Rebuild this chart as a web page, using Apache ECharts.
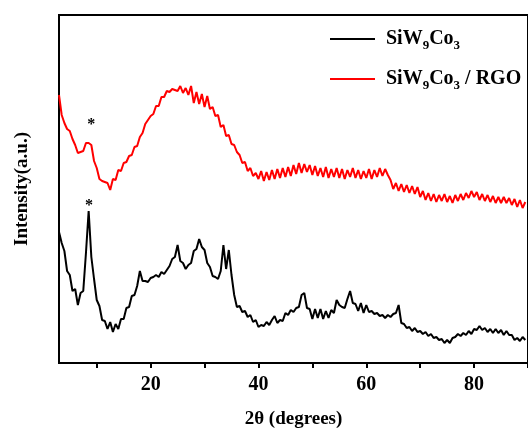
<!DOCTYPE html>
<html>
<head>
<meta charset="utf-8">
<script src="https://cdn.jsdelivr.net/npm/echarts@6/dist/echarts.min.js"></script>
<style>html,body{margin:0;padding:0;background:#fff;}#c{width:528px;height:434px;}</style>
</head>
<body>
<div id="c"></div>
<script>
// 2θ positions (degrees)
var twoTheta = [
3,3.5,4,4.5,5,5.5,6,6.5,7,7.5,
8,8.5,9,9.5,10,10.5,11,11.5,12,12.5,
13,13.5,14,14.5,15,15.5,16,16.5,17,17.5,
18,18.5,19,19.5,20,20.5,21,21.5,22,22.5,
23,23.5,24,24.5,25,25.5,26,26.5,27,27.5,
28,28.5,29,29.5,30,30.5,31,31.5,32,32.5,
33,33.5,34,34.5,35,35.5,36,36.5,37,37.5,
38,38.5,39,39.5,40,40.5,41,41.5,42,42.5,
43,43.5,44,44.5,45,45.5,46,46.5,47,47.5,
48,48.5,49,49.5,50,50.5,51,51.5,52,52.5,
53,53.5,54,54.5,55,55.5,56,56.5,57,57.5,
58,58.5,59,59.5,60,60.5,61,61.5,62,62.5,
63,63.5,64,64.5,65,65.5,66,66.5,67,67.5,
68,68.5,69,69.5,70,70.5,71,71.5,72,72.5,
73,73.5,74,74.5,75,75.5,76,76.5,77,77.5,
78,78.5,79,79.5,80,80.5,81,81.5,82,82.5,
83,83.5,84,84.5,85,85.5,86,86.5,87,87.5,
88,88.5,89,89.5
];
// SiW9Co3 / RGO intensity (a.u.)
var rgoIntensity = [
268,248,240,234,232,224,218,210,211,212,
220,220,218,202,195,184,182,181,180,173,
184,183,193,192,200,201,207,208,216,217,
226,230,239,243,247,249,257,257,266,266,
272,271,274,273,272,277,270,275,268,277,
260,271,259,269,256,267,254,256,247,248,
236,238,227,228,219,218,211,208,200,201,
192,195,187,190,184,192,182,191,183,193,
184,194,185,195,186,196,187,198,189,200,
190,199,191,198,188,197,187,195,186,196,
185,194,186,195,185,194,184,193,186,195,
185,193,184,192,185,194,184,193,186,195,
187,194,188,183,174,180,172,179,171,178,
170,177,169,176,166,172,163,170,162,169,
161,168,162,169,161,167,160,168,162,169,
163,170,165,172,166,171,163,169,162,168,
161,167,160,166,160,166,160,165,158,164,
156,163,155,161
];
// SiW9Co3 intensity (a.u.)
var siwIntensity = [
131,120,112,92,88,72,74,58,70,72,
110,152,106,84,63,57,43,42,34,41,
31,39,34,44,44,55,56,67,68,77,
92,82,82,81,85,86,88,86,91,89,
93,97,104,106,118,102,100,94,98,100,
112,114,124,116,113,100,96,87,86,84,
92,118,94,113,88,68,56,57,51,52,
46,48,41,43,36,38,37,41,38,43,
47,40,43,42,50,48,53,51,55,56,
68,70,55,54,44,54,45,54,44,52,
45,53,50,63,58,56,55,64,72,60,
59,52,60,50,58,51,52,49,50,47,
48,45,48,46,49,50,58,40,39,35,
36,32,35,31,32,29,31,27,29,25,
26,23,24,20,23,20,25,26,29,27,
30,28,32,29,34,33,37,33,35,31,
34,30,34,30,33,28,32,28,28,23,
25,22,26,23
];
var xLabelValues = [20, 40, 60, 80];
var xTickValues = [10, 20, 30, 40, 50, 60, 70, 80, 90];
var seriesNames = ['SiW9Co3', 'SiW9Co3 / RGO'];
var legendRich = {
  'SiW9Co3': '{a0|SiW}{s|9}{a|Co}{s|3}',
  'SiW9Co3 / RGO': '{a0|SiW}{s|9}{a|Co}{s|3}{a| / RGO}'
};
// peak markers (*) : [2θ, intensity]
var starRGO = [9.0, 238];
var starSiW = [8.55, 157];

function pairs(xs, ys) { return xs.map(function (x, i) { return [x, ys[i]]; }); }

var FONT = '"Liberation Serif", "Times New Roman", serif';
function starMark(c) {
  return {
    symbol: 'circle', symbolSize: 1, silent: true,
    itemStyle: { color: 'rgba(0,0,0,0)' },
    label: { show: true, position: 'inside', formatter: '*', color: '#000', fontSize: 16, fontWeight: 'bold', fontFamily: FONT },
    data: [{ coord: c }]
  };
}

var chart = echarts.init(document.getElementById('c'), null, { renderer: 'canvas' });
chart.setOption({
  animation: false,
  backgroundColor: '#fff',
  grid: { left: 59, top: 15, right: -6, bottom: 71, show: true, borderColor: '#000', borderWidth: 2, backgroundColor: 'rgba(0,0,0,0)' },
  legend: {
    data: [{ name: seriesNames[0], icon: 'rect' }, { name: seriesNames[1], icon: 'rect' }],
    orient: 'vertical', left: 325, top: 24,
    itemWidth: 45, itemHeight: 2, itemGap: 17,
    formatter: function (n) { return legendRich[n]; },
    textStyle: {
      color: '#000', fontFamily: FONT, fontWeight: 'bold', fontSize: 20,
      rich: {
        a0: { fontSize: 20, fontWeight: 'bold', fontFamily: FONT, color: '#000', padding: [0, 0, 0, 6] },
        a: { fontSize: 20, fontWeight: 'bold', fontFamily: FONT, color: '#000' },
        s: { fontSize: 13, fontWeight: 'bold', fontFamily: FONT, color: '#000', padding: [13, 0, 0, 0] }
      }
    }
  },
  xAxis: {
    type: 'value', min: 3, max: 90,
    name: '2θ (degrees)', nameLocation: 'middle', nameGap: 47,
    nameTextStyle: { fontFamily: FONT, fontWeight: 'bold', fontSize: 19, color: '#000' },
    axisLine: { show: true, lineStyle: { color: '#000', width: 2 } },
    axisTick: { show: true, length: 5, inside: false, customValues: xTickValues, lineStyle: { color: '#000', width: 2 } },
    axisLabel: { customValues: xLabelValues, fontFamily: FONT, fontWeight: 'bold', fontSize: 20, color: '#000', margin: 12 },
    splitLine: { show: false }
  },
  yAxis: {
    type: 'value', min: 0, max: 348,
    name: 'Intensity(a.u.)', nameLocation: 'middle', nameGap: 27,
    nameTextStyle: { fontFamily: FONT, fontWeight: 'bold', fontSize: 19, color: '#000' },
    axisLine: { show: true, lineStyle: { color: '#000', width: 2 } },
    axisTick: { show: false }, axisLabel: { show: false }, splitLine: { show: false }
  },
  series: [
    { name: seriesNames[0], type: 'line', data: pairs(twoTheta, siwIntensity), showSymbol: false, symbol: 'none',
      lineStyle: { color: '#000', width: 2 }, itemStyle: { color: '#000' }, markPoint: starMark(starSiW) },
    { name: seriesNames[1], type: 'line', data: pairs(twoTheta, rgoIntensity), showSymbol: false, symbol: 'none',
      lineStyle: { color: '#ff0000', width: 2 }, itemStyle: { color: '#ff0000' }, markPoint: starMark(starRGO) }
  ]
});
</script>
</body>
</html>
